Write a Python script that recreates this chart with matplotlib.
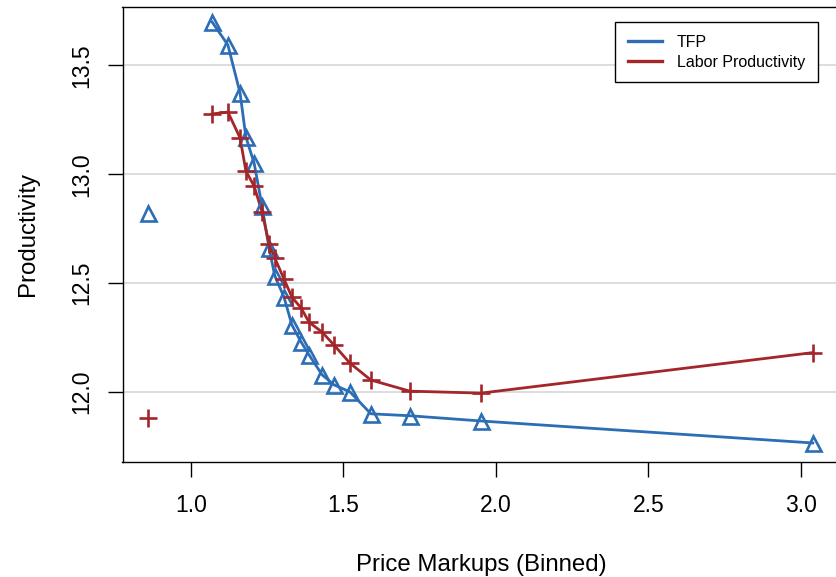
import matplotlib
matplotlib.use("Agg")
import matplotlib.pyplot as plt
from matplotlib.lines import Line2D

plt.rcParams['font.family'] = ['Liberation Sans', 'DejaVu Sans']

# Binned price markups (x) and productivity series
markups = [0.859, 1.069, 1.121, 1.161, 1.180, 1.207, 1.233, 1.256, 1.275, 1.305,
           1.331, 1.361, 1.387, 1.430, 1.469, 1.521, 1.590, 1.718, 1.951, 3.039]
tfp = [12.822, 13.700, 13.594, 13.373, 13.171, 13.052, 12.854, 12.661, 12.533, 12.436,
       12.308, 12.230, 12.171, 12.079, 12.033, 12.001, 11.900, 11.891, 11.867, 11.766]
labor = [11.881, 13.277, 13.286, 13.167, 13.015, 12.946, 12.827, 12.680, 12.615, 12.519,
         12.436, 12.386, 12.321, 12.275, 12.216, 12.133, 12.055, 12.004, 11.995, 12.181]

x_ticks = [1.0, 1.5, 2.0, 2.5, 3.0]
x_tick_labels = ["1.0", "1.5", "2.0", "2.5", "3.0"]
y_ticks = [12.0, 12.5, 13.0, 13.5]
y_tick_labels = ["12.0", "12.5", "13.0", "13.5"]

BLUE = '#2C6DB5'
RED = '#A3262A'

W, H = 836, 577
fig = plt.figure(figsize=(W / 100, H / 100), dpi=100)
L, R, T, B = 122.5, 839.0, 7.3, 461.7
ax = fig.add_axes([L / W, 1 - B / H, (R - L) / W, (B - T) / H])

ax.set_xlim(0.7754, 3.125)
ax.set_ylim(11.680, 13.767)

# grid
for yv in y_ticks:
    ax.axhline(yv, color='#D3D3D3', lw=1.1, zorder=0)

# lines (first bin is not connected)
ax.plot(markups[1:], tfp[1:], color=BLUE, lw=2.0, zorder=2)
ax.plot(markups[1:], labor[1:], color=RED, lw=2.0, zorder=3)
ax.plot(markups, tfp, ls='none', marker='^', ms=10.8, mfc='none', mec=BLUE, mew=1.9, zorder=4)
ax.plot(markups, labor, ls='none', marker='+', ms=12.5, mec=RED, mew=1.9, zorder=5)

ax.set_xticks(x_ticks)
ax.set_xticklabels(x_tick_labels)
ax.set_yticks(y_ticks)
ax.set_yticklabels(y_tick_labels, rotation=90, va='center')

ax.tick_params(axis='both', direction='out', length=10.8, width=1.0, labelsize=16.5, color='black')
ax.tick_params(axis='x', pad=12.3)
ax.tick_params(axis='y', pad=10.3)
for s in ax.spines.values():
    s.set_linewidth(1.0)
    s.set_color('black')

fig.text(481 / W, 1 - 565 / H, "Price Markups (Binned)", ha='center', va='center', fontsize=17.3)
fig.text(28 / W, 1 - 234.5 / H, "Productivity", ha='center', va='center', rotation=90, fontsize=17.3)

handles = [Line2D([], [], color=BLUE, lw=2.4), Line2D([], [], color=RED, lw=2.4)]
leg = ax.legend(handles, ["TFP", "Labor Productivity"], loc='upper right',
                bbox_to_anchor=(818 / W, 1 - 22 / H), bbox_transform=fig.transFigure,
                borderaxespad=0, fontsize=11.5, frameon=True, fancybox=False,
                edgecolor='black', framealpha=1, handlelength=2.1, handletextpad=0.95,
                labelspacing=0.3, borderpad=0.8)
leg.get_frame().set_linewidth(1.0)

fig.savefig("out.png", dpi=100)
